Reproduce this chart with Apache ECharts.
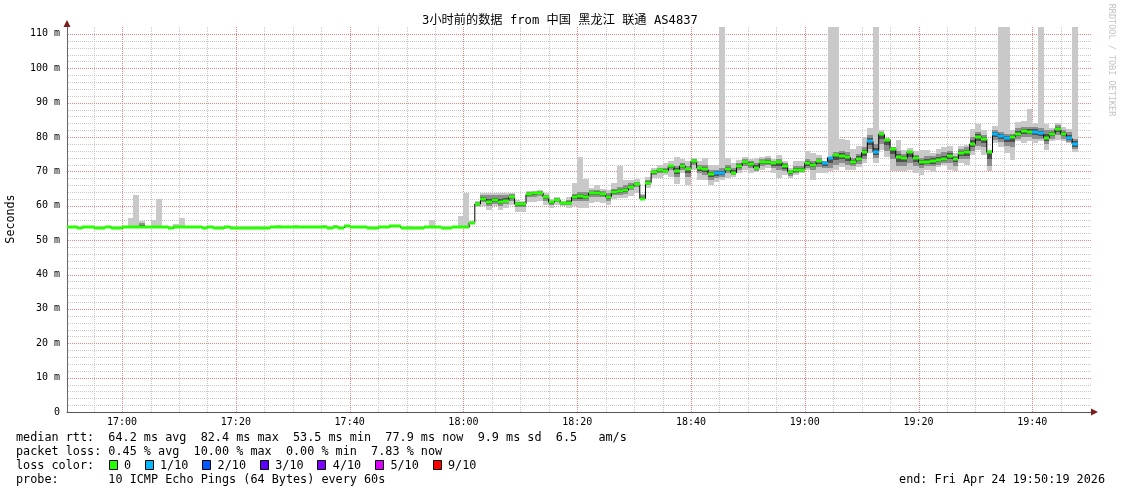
<!DOCTYPE html>
<html><head><meta charset="utf-8">
<script src="https://cdn.jsdelivr.net/npm/echarts@6/dist/echarts.min.js"></script>
<style>html,body{margin:0;padding:0;background:#fff}#c{width:1121px;height:494px}</style>
</head><body><div id="c"></div>
<script>
// ---------------- DATA ----------------
// one slot per minute, slot 0 starts at 16:50:00; view is 16:50:19 .. 19:50:19
const SLOT0_CLOCK_MIN = 16 * 60 + 50;
const VIEW_START = 19 / 60;
const VIEW_END = 180 + 19 / 60;

const median = [
53.7,53.9,53.5,53.8,53.8,53.6,53.6,53.9,53.5,53.5,
53.7,53.8,53.8,53.8,53.7,53.8,53.7,53.9,53.5,53.8,
53.8,53.8,53.8,53.8,53.6,53.8,53.5,53.5,53.8,53.6,
53.6,53.6,53.5,53.5,53.6,53.6,53.7,53.8,53.8,53.8,
53.8,53.8,53.8,53.8,53.8,53.8,53.5,53.8,53.6,54.1,
53.8,53.8,53.8,53.6,53.5,53.8,53.8,54.1,54.1,53.5,
53.5,53.5,53.5,53.8,53.8,53.7,53.5,53.6,53.8,53.8,
53.7,55.1,60.5,62.0,61.2,61.7,61.2,61.5,62.5,60.5,
60.5,63.3,63.6,63.8,62.5,61.0,61.7,60.7,60.9,62.5,
62.7,62.5,63.6,63.7,63.4,62.6,64.1,64.2,64.5,65.6,
66.4,62.1,66.7,69.7,70.4,70.1,71.5,70.2,71.6,70.7,
73.0,71.0,70.6,69.3,69.5,69.5,70.6,69.6,71.6,72.6,
72.2,71.0,72.6,72.7,72.4,72.7,71.6,69.8,70.4,70.4,
72.4,72.0,73.0,72.4,74.0,74.9,74.5,74.1,72.6,73.7,
75.5,78.8,75.6,80.8,79.2,76.6,74.1,73.8,75.7,73.9,
72.6,72.8,73.0,73.3,73.7,74.5,73.7,75.3,75.5,78.0,
80.1,79.4,75.5,80.9,80.4,79.8,80.0,80.9,81.8,81.6,
81.5,81.1,79.8,80.9,82.4,80.8,79.6,77.9
];

// lost pings (of 10) per slot
const loss = [
0,0,0,0,0,0,0,0,0,0, 0,0,0,0,0,0,0,0,0,0, 0,0,0,0,0,0,0,0,0,0,
0,0,0,0,0,0,0,0,0,0, 0,0,0,0,0,0,0,0,0,0, 0,0,0,0,0,0,0,0,0,0,
0,0,0,0,0,0,0,0,0,0, 0,0,0,0,0,0,0,0,0,0, 0,0,0,0,0,0,0,0,0,0,
0,0,0,0,0,0,0,0,0,0, 0,0,0,0,0,0,0,0,0,0, 0,0,0,0,1,1,0,0,0,0,
0,0,0,0,0,0,0,0,0,0, 0,0,0,1,1,0,0,0,0,0, 0,1,1,0,0,0,0,0,0,0,
0,0,0,0,0,0,0,0,0,0, 0,0,0,1,1,1,0,0,0,0, 1,1,0,0,0,0,1,1
];

// smoke: lowest / highest ping, and the inner (2nd..9th) band
const smokeLo = [
null,null,null,null,null,null,null,null,null,null,
null,53.7,53.6,53.4,null,53.7,53.6,null,null,53.7,
53.7,null,null,null,null,null,null,null,null,null,
null,null,null,null,null,null,null,53.7,null,null,
53.7,null,null,null,null,53.7,null,53.7,null,null,
null,null,null,null,null,null,null,null,null,null,
53.3,null,null,null,53.7,null,null,null,null,53.6,
53.5,54.6,59.5,59.8,58.8,59.8,58.8,59.3,60.3,58.3,
58.3,61.2,61.2,61.5,60.2,59.3,60.2,59.8,59.3,59.8,
59.3,59.3,60.7,61.2,60.7,60.2,62.0,62.2,62.2,62.7,
63.6,61.7,65.1,68.0,68.0,69.0,68.5,66.4,69.5,66.1,
70.4,67.5,67.5,66.1,67.0,67.5,68.0,68.5,69.5,70.4,
69.5,69.9,70.4,70.9,69.5,68.0,69.0,68.0,69.0,69.5,
70.4,67.5,69.5,69.5,70.0,70.4,71.4,70.4,70.4,71.4,
72.4,75.3,72.4,76.3,74.3,70.0,70.0,70.0,70.4,69.5,
69.0,70.4,69.9,71.4,71.9,70.4,70.2,72.4,71.9,74.8,
76.3,74.8,70.2,78.2,77.2,75.3,73.3,78.7,78.2,78.7,
78.2,78.7,76.3,78.7,79.2,78.7,78.2,75.5
];
const smokeHi = [
null,null,null,null,null,null,null,null,null,null,
null,56.4,63.2,55.6,null,55.9,61.9,null,null,54.7,
56.4,null,null,null,null,null,null,null,null,null,
null,null,null,null,null,null,null,54.3,null,null,
54.3,null,null,null,null,54.3,null,54.3,null,null,
null,null,null,null,null,null,null,null,null,null,
54.2,null,null,null,55.8,null,null,null,null,57.0,
63.8,55.6,61.5,63.8,63.8,63.6,63.8,63.8,63.8,61.7,
61.4,64.4,64.4,64.6,63.6,61.9,62.5,61.5,62.5,66.5,
74.1,67.7,65.1,66.1,64.8,64.6,66.6,71.6,67.5,67.5,
67.7,63.5,68.5,70.9,71.9,72.4,72.9,74.3,73.5,72.9,
73.8,72.9,73.8,71.9,71.9,125,73.8,72.4,73.3,74.3,
73.5,73.8,74.3,74.5,73.5,74.8,72.9,70.9,72.9,72.9,
75.8,75.3,74.8,72.9,125,125,79.4,79.0,76.4,77.4,
80.1,82.6,125,82.1,79.6,77.2,79.2,76.3,76.7,75.8,
76.3,76.3,75.3,76.4,77.2,77.4,75.3,77.4,77.7,82.3,
83.8,81.9,76.3,83.2,125,125,82.1,84.5,84.8,88.1,
84.0,125,83.8,82.6,84.0,83.0,82.3,125
];
const innerLo = [
null,null,null,null,null,null,null,null,null,null,
null,null,null,53.6,null,null,null,null,null,null,
null,null,null,null,null,null,null,null,null,null,
null,null,null,null,null,null,null,null,null,null,
null,null,null,null,null,null,null,null,null,null,
null,null,null,null,null,null,null,null,null,null,
null,null,null,null,null,null,null,null,null,null,
null,null,60.0,61.0,60.0,60.5,60.0,60.5,61.5,59.5,
59.5,62.5,62.5,62.8,61.5,60.2,61.0,60.2,60.3,61.5,
61.5,61.5,62.5,62.5,62.5,61.5,63.0,63.0,63.5,64.5,
65.5,61.9,66.0,69.0,69.5,69.5,70.5,68.5,70.5,68.5,
72.0,69.5,69.0,67.5,68.0,68.5,69.5,69.0,70.5,71.5,
71.0,70.2,71.5,71.8,71.0,70.5,70.0,68.8,69.5,69.8,
71.0,70.5,71.2,71.0,71.0,72.0,72.5,72.0,71.5,72.2,
73.5,76.5,74.0,78.0,76.0,73.5,71.5,71.5,72.5,71.5,
71.0,71.5,71.5,72.0,72.5,72.5,71.5,73.5,73.5,76.0,
77.5,77.0,71.5,79.0,78.5,77.5,77.0,79.5,80.0,80.0,
79.5,79.5,78.0,79.5,80.5,79.5,78.5,76.5
];
const innerHi = [
null,null,null,null,null,null,null,null,null,null,
null,null,null,55.0,null,null,null,null,null,null,
null,null,null,null,null,null,null,null,null,null,
null,null,null,null,null,null,null,null,null,null,
null,null,null,null,null,null,null,null,null,null,
null,null,null,null,null,null,null,null,null,null,
null,null,null,null,null,null,null,null,null,null,
null,null,61.0,63.0,63.0,63.0,63.0,63.0,63.4,61.2,
61.0,64.0,64.0,64.2,63.0,61.5,62.2,61.2,61.8,63.5,
64.0,64.0,64.5,64.6,64.2,63.8,65.0,65.5,66.0,66.5,
67.0,63.0,67.5,70.5,71.0,71.0,72.0,71.5,72.5,71.5,
73.5,71.8,72.0,70.5,70.5,71.0,72.0,71.0,72.5,73.5,
73.0,72.5,73.5,73.8,73.0,73.5,72.5,70.5,71.5,71.5,
73.5,73.0,73.8,73.0,74.0,75.5,76.0,75.5,74.0,75.0,
77.0,80.5,78.0,81.5,79.0,77.0,76.0,75.0,76.0,74.8,
74.0,74.5,74.5,75.0,75.5,76.0,74.5,76.5,77.0,80.0,
81.5,80.5,75.5,82.0,81.5,81.0,81.0,82.5,83.0,83.0,
83.0,82.5,82.0,82.0,83.5,82.0,81.5,79.5
];

const yMin = 0, yMax = 112;
// axis ticks (minutes since 16:50 / ms)
const xLabelTicks = [10, 30, 50, 70, 90, 110, 130, 150, 170];           // 17:00 .. 19:40
const xMinorTicks = [5, 15, 20, 25, 35, 40, 45, 55, 60, 65, 75, 80, 85, 95, 100, 105,
                     115, 120, 125, 135, 140, 145, 155, 160, 165, 175, 180];
const yLabelTicks = [0, 10, 20, 30, 40, 50, 60, 70, 80, 90, 100, 110];
const yMinorTicks = [2, 4, 6, 8, 12, 14, 16, 18, 22, 24, 26, 28, 32, 34, 36, 38, 42, 44, 46, 48,
                     52, 54, 56, 58, 62, 64, 66, 68, 72, 74, 76, 78, 82, 84, 86, 88, 92, 94, 96, 98,
                     102, 104, 106, 108];

const lossThresholds = [0, 1, 2, 3, 4, 5, 9];
const lossLabels = ['0', '1/10', '2/10', '3/10', '4/10', '5/10', '9/10'];
const lossColors = ['#26ff00', '#00b8ff', '#0059ff', '#5e00ff', '#7e00ff', '#dd00ff', '#ff0000'];

const titleText = '3小时前的数据 from 中国 黑龙江 联通 AS4837';
const statsLines = [
  'median rtt:  64.2 ms avg  82.4 ms max  53.5 ms min  77.9 ms now  9.9 ms sd  6.5   am/s',
  'packet loss: 0.45 % avg  10.00 % max  0.00 % min  7.83 % now'
];
const lossLegendLabel = 'loss color:';
const probeLine = 'probe:       10 ICMP Echo Pings (64 Bytes) every 60s';
const endLine = 'end: Fri Apr 24 19:50:19 2026';
const yAxisName = 'Seconds';
const watermark = 'RRDTOOL / TOBI OETIKER';

// ---------------- STYLE ----------------
const MONO = "'DejaVu Sans Mono', 'Noto Sans CJK SC', monospace";
const RED = '#f28282', GRAY = '#c8c8c8';
const CHAR_W = 7.2, LEG_X = 16, LEG_FONT = '11.8px ' + MONO;

function lossColor(l) {
  let c = lossColors[0];
  for (let i = 0; i < lossThresholds.length; i++) if (l >= lossThresholds[i]) c = lossColors[i];
  return c;
}
function clock(v) {
  const t = SLOT0_CLOCK_MIN + v;
  const h = Math.floor(t / 60), m = Math.round(t - h * 60);
  return h + ':' + (m < 10 ? '0' : '') + m;
}

const smokeData = [];
median.forEach((m, k) => {
  if (smokeLo[k] != null) smokeData.push([k, smokeLo[k], smokeHi[k], innerLo[k], innerHi[k], m]);
});
const medianData = median.map((m, k) => [k, m, loss[k]]);
const stepData = median.map((m, k) => [k + 0.5, m]);

function rectIn(cs, k, lo, hi, api, fill) {
  const a = api.coord([k, hi]), b = api.coord([k + 1, lo]);
  const x0 = Math.round(Math.max(a[0], cs.x)), x1 = Math.round(Math.min(b[0], cs.x + cs.width));
  const y0 = Math.round(Math.max(a[1], cs.y)), y1 = Math.round(Math.min(b[1], cs.y + cs.height));
  if (x1 <= x0 || y1 <= y0) return null;
  return { type: 'rect', shape: { x: x0, y: y0, width: x1 - x0, height: y1 - y0 }, style: { fill: fill }, silent: true };
}
function renderSmoke(params, api) {
  const cs = params.coordSys;
  const k = api.value(0), lo = api.value(1), hi = api.value(2), il = api.value(3), ih = api.value(4), md = api.value(5);
  const ch = [];
  const r1 = rectIn(cs, k, lo, hi, api, '#c9c9c9'); if (r1) ch.push(r1);
  if (!isNaN(il) && !isNaN(ih)) {
    const r2 = rectIn(cs, k, il, ih, api, '#8e8e8e'); if (r2) ch.push(r2);
    const r3 = rectIn(cs, k, (il + md) / 2, (ih + md) / 2, api, '#4f4f4f'); if (r3) ch.push(r3);
  }
  return { type: 'group', children: ch };
}
function renderMedian(params, api) {
  const cs = params.coordSys;
  const k = api.value(0), m = api.value(1), l = api.value(2);
  const a = api.coord([k, m]), b = api.coord([k + 1, m]);
  const x0 = Math.round(Math.max(a[0], cs.x)), x1 = Math.round(Math.min(b[0], cs.x + cs.width));
  if (x1 <= x0) return null;
  return { type: 'rect', shape: { x: x0, y: Math.round(a[1]) - 1.5, width: x1 - x0, height: 3 }, style: { fill: lossColor(l) }, silent: true };
}
// grid lines drawn through the axes' scales (1px dots, 1px gaps)
function renderGrid(params, api) {
  const cs = params.coordSys;
  const ch = [];
  const vline = (v, color) => {
    const x = Math.round(api.coord([v, yMin])[0]);
    for (let y = Math.ceil(cs.y); y < cs.y + cs.height; y += 2)
      ch.push({ type: 'rect', shape: { x: x, y: y, width: 1, height: 1 }, style: { fill: color }, silent: true });
  };
  const hline = (v, color) => {
    const y = Math.round(api.coord([VIEW_START, v])[1]);
    for (let x = Math.ceil(cs.x) + 1; x < cs.x + cs.width; x += 2)
      ch.push({ type: 'rect', shape: { x: x, y: y, width: 1, height: 1 }, style: { fill: color }, silent: true });
  };
  yMinorTicks.forEach(v => hline(v, GRAY));
  xMinorTicks.filter(v => v < VIEW_END - 0.5).forEach(v => vline(v, GRAY));
  yLabelTicks.filter(v => v > 0).forEach(v => hline(v, RED));
  xLabelTicks.forEach(v => vline(v, RED));
  return { type: 'group', children: ch };
}

// legend graphics
const graphics = [];
graphics.push({ type: 'text', x: 560, y: 21, style: { text: titleText, font: '12.2px ' + MONO, fill: '#000', align: 'center', verticalAlign: 'middle' } });
graphics.push({ type: 'text', x: 11, y: 219, rotation: Math.PI / 2, style: { text: yAxisName, font: '11.7px ' + MONO, fill: '#000', align: 'center', verticalAlign: 'middle' } });
graphics.push({ type: 'text', x: 1111, y: 60, rotation: -Math.PI / 2, style: { text: watermark, font: '8.5px ' + MONO, fill: '#c4c4c4', align: 'center', verticalAlign: 'middle' } });
graphics.push({ type: 'polygon', shape: { points: [[63.5, 27], [70.5, 27], [67, 20]] }, style: { fill: '#7a1c1c' } });
graphics.push({ type: 'polygon', shape: { points: [[1091, 408.5], [1091, 415.5], [1098, 412]] }, style: { fill: '#7a1c1c' } });
const rowY = [438, 452, 466, 480];
statsLines.forEach((t, i) => graphics.push({ type: 'text', x: LEG_X, y: rowY[i], style: { text: t, font: LEG_FONT, fill: '#000', verticalAlign: 'middle' } }));
graphics.push({ type: 'text', x: LEG_X, y: rowY[2], style: { text: lossLegendLabel, font: LEG_FONT, fill: '#000', verticalAlign: 'middle' } });
let col = 13;
lossLabels.forEach((lab, i) => {
  graphics.push({ type: 'rect', shape: { x: Math.round(LEG_X + col * CHAR_W) - 0.5, y: rowY[2] - 5.5, width: 8, height: 9 }, style: { fill: lossColors[i], stroke: '#000', lineWidth: 1 } });
  graphics.push({ type: 'text', x: LEG_X + (col + 2) * CHAR_W, y: rowY[2], style: { text: lab, font: LEG_FONT, fill: '#000', verticalAlign: 'middle' } });
  col += 4 + lab.length;
});
graphics.push({ type: 'text', x: LEG_X, y: rowY[3], style: { text: probeLine, font: LEG_FONT, fill: '#000', verticalAlign: 'middle' } });
graphics.push({ type: 'text', x: 1105, y: rowY[3], style: { text: endLine, font: LEG_FONT, fill: '#000', align: 'right', verticalAlign: 'middle' } });

const chart = echarts.init(document.getElementById('c'), null, { renderer: 'canvas' });
chart.setOption({
  animation: false,
  backgroundColor: '#fff',
  grid: { left: 67, top: 27, width: 1024, height: 385, containLabel: false },
  xAxis: {
    type: 'value', min: VIEW_START, max: VIEW_END, splitNumber: 36,
    axisLine: { show: true, onZero: false, lineStyle: { color: '#555', width: 1 } },
    axisTick: { show: false },
    axisLabel: {
      margin: 5, color: '#000', fontFamily: MONO, fontSize: 10,
      formatter: v => xLabelTicks.some(t => Math.abs(t - v) < 1e-6) ? clock(v) : ''
    },
    splitLine: { show: false }
  },
  yAxis: {
    type: 'value', min: yMin, max: yMax, splitNumber: 56,
    axisLine: { show: true, lineStyle: { color: '#666', width: 1 } },
    axisTick: { show: false },
    axisLabel: {
      margin: 7, color: '#000', fontFamily: MONO, fontSize: 10,
      formatter: v => yLabelTicks.includes(v) ? (v === 0 ? '0' : v + ' m') : ''
    },
    splitLine: { show: false }
  },
  series: [
    { type: 'custom', name: 'grid', renderItem: renderGrid, data: [[VIEW_START, yMin]], encode: { x: 0, y: 1 }, z: 1, silent: true },
    { type: 'custom', name: 'smoke', renderItem: renderSmoke, data: smokeData, encode: { x: 0, y: [1, 2] }, z: 2, silent: true },
    { type: 'line', name: 'step', data: stepData, step: 'middle', showSymbol: false, symbol: 'none',
      lineStyle: { color: '#000', width: 1 }, z: 3, silent: true },
    { type: 'custom', name: 'median', renderItem: renderMedian, data: medianData, encode: { x: 0, y: 1 }, z: 4, silent: true }
  ],
  graphic: graphics
});
</script></body></html>
